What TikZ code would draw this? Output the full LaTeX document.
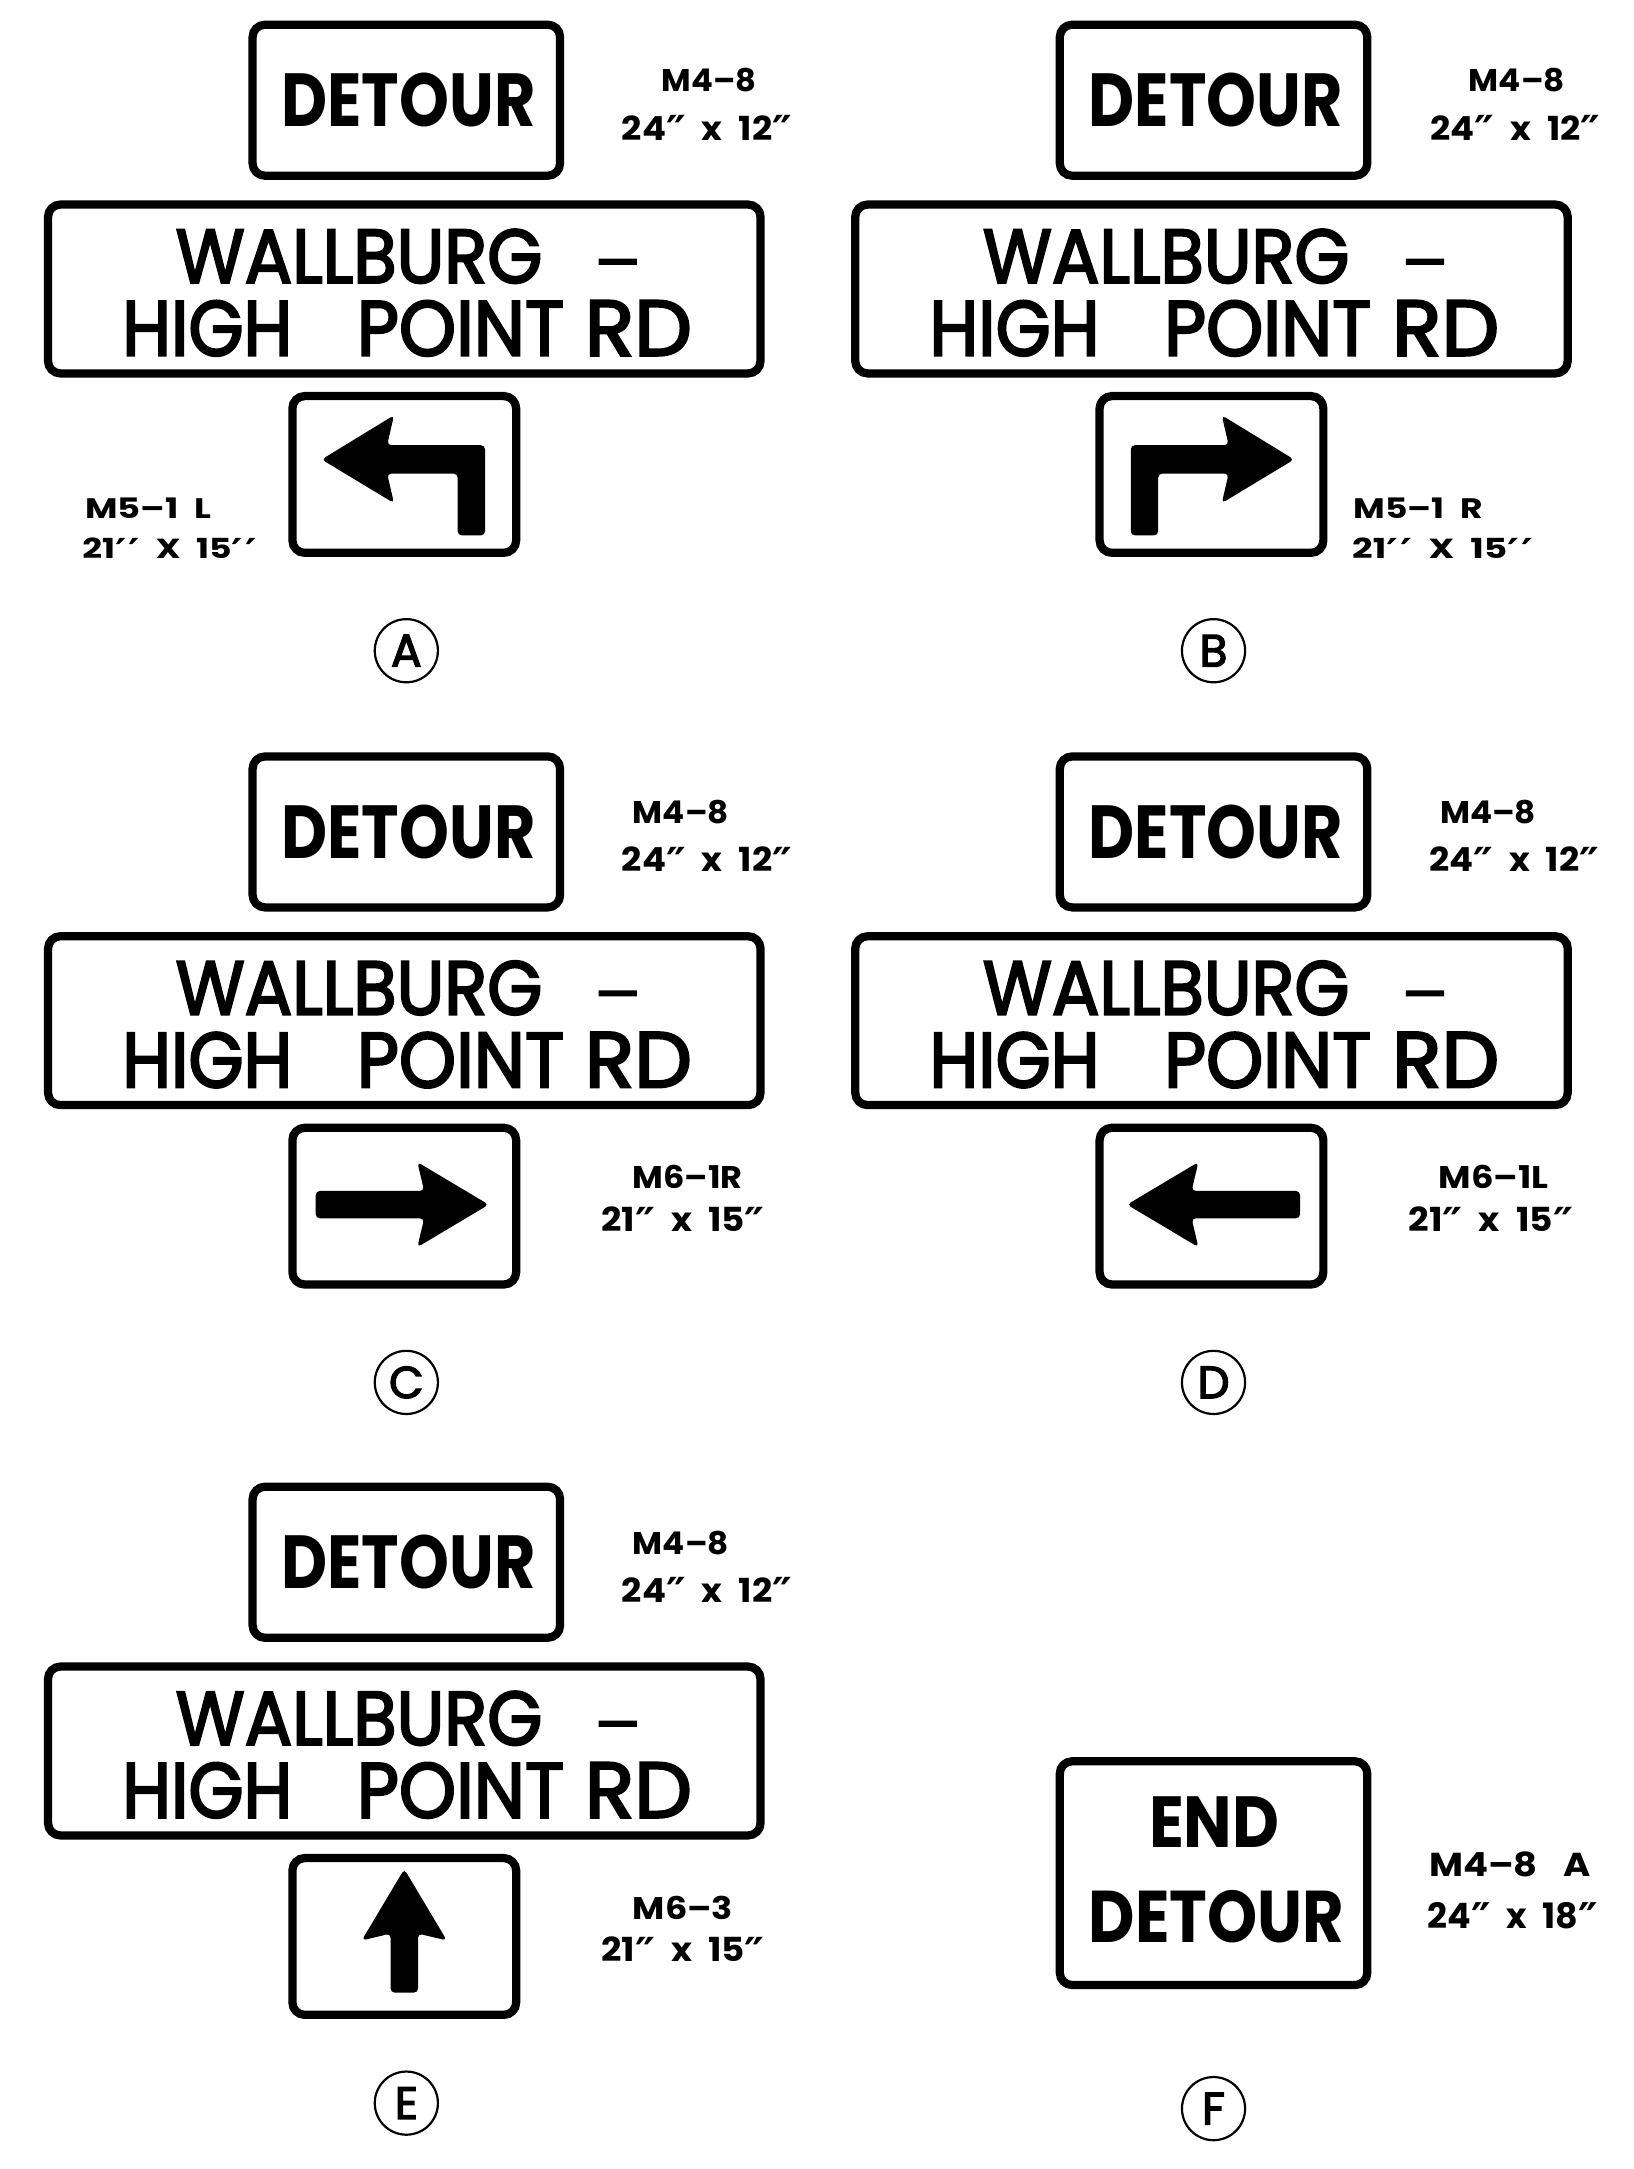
\documentclass[tikz,border=0pt]{standalone}
\usepackage{fontspec}
\usepackage{graphicx}
\setmainfont{Poppins}
\newfontfamily\dv{DejaVu Sans}
\newfontfamily\medfont{Poppins}[FakeBold=3]
\newlength\unitl
\setlength\unitl{0.01372cm}
\newcommand\sgnb{\fontsize{20pt}{24pt}\selectfont\bfseries}
\newcommand\sgnm{\fontsize{20pt}{24pt}\selectfont\medfont}
\newcommand\lab{\fontsize{10pt}{12pt}\selectfont\bfseries}
\newcommand\dq{\smash{\raisebox{-1.7pt}{\dv\bfseries\fontsize{12.5pt}{12pt}\selectfont ″}}}
\newcommand\pp{\smash{\raisebox{-1.7pt}{\dv\bfseries\fontsize{12.5pt}{12pt}\selectfont ′\kern0.05em′}}}
% name x1 x2 ytop ybase font text
\newcommand\fitnode[7]{%
  \pgfmathsetlengthmacro\fw{(#3-#2)*\unitl}%
  \pgfmathsetlengthmacro\fh{(#5-#4)*\unitl}%
  \node[inner sep=0pt, outer sep=0pt, anchor=base] (#1) at ({(#2+#3)/2},#5) {\resizebox{\fw}{\fh}{#6#7}};}
% name x1 y1 x2 y2
\newcommand\signnode[5]{%
  \node[signbox, minimum width={(#4-#2-6)*\unitl}, minimum height={(#5-#3-6)*\unitl}] (#1) at ({(#2+#4)/2},{(#3+#5)/2}) {};}
% prefix dx dy
\newcommand\toppanel[3]{%
  \begin{scope}[shift={(#2,#3)}]
    \signnode{#1det}{181}{15}{411}{131}
    \fitnode{#1dett}{205}{390}{53}{92}{\sgnb}{DETOUR}
    \signnode{#1wal}{32}{146}{557}{275}
    \fitnode{#1wa}{128}{395}{167}{206}{\sgnm}{WALLBURG}
    \fitnode{#1dash}{433}{467}{189}{206}{\sgnm}{–}
    \fitnode{#1hi}{89}{213}{219}{259}{\sgnm}{HIGH}
    \fitnode{#1po}{260}{411}{219}{259}{\sgnm}{POINT}
    \fitnode{#1rd}{426}{504}{219}{259}{\sgnm}{RD}
    \signnode{#1arr}{210}{285.5}{379}{405.7}
  \end{scope}}
\begin{document}
\begin{tikzpicture}[x=0.01372cm, y=-0.01372cm,
  signbox/.style={draw, line width=6*\unitl, rounded corners=9*\unitl, inner sep=0pt},
  circ/.style={draw, circle, line width=1.6*\unitl, minimum size=46*\unitl, inner sep=0pt},
  arrowfill/.style={fill=black, rounded corners=3*\unitl}]
\useasboundingbox (0,0) rectangle (1190,1580);
\fill[white] (0,0) rectangle (1190,1580);

% ---------- A ----------
\toppanel{A}{0}{0}
\begin{scope}[shift={(210,285.5)}]
  \fill[arrowfill] (24.3,49.2) -- (77,17) -- (72,38.8) -- (143.3,38.8) -- (143.3,104.5) -- (123.4,104.5) -- (123.4,59.5) -- (72,59.5) -- (77,81) -- cycle;
\end{scope}
\fitnode{Al1}{482}{551}{50}{67}{\lab}{M4–8}
\fitnode{Al2}{453}{577}{84}{102}{\lab}{24\dq\hspace{.45em}x\hspace{.45em}12\dq}
\fitnode{Al3}{62}{154}{363}{378}{\lab}{M5–1\hspace{.45em}L}
\fitnode{Al4}{60}{187}{392}{407}{\lab}{21\pp\hspace{.45em}X\hspace{.45em}15\pp}
\node[circ] (Ac) at (296,474) {\resizebox{!}{23\unitl}{\medfont A}};

% ---------- B ----------
\toppanel{B}{588}{0}
\begin{scope}[shift={(967,285.5)}, xscale=-1]
  \fill[arrowfill] (24.3,49.2) -- (77,17) -- (72,38.8) -- (143.3,38.8) -- (143.3,104.5) -- (123.4,104.5) -- (123.4,59.5) -- (72,59.5) -- (77,81) -- cycle;
\end{scope}
\fitnode{Bl1}{1070}{1140}{50}{67}{\lab}{M4–8}
\fitnode{Bl2}{1042}{1166}{84}{102}{\lab}{24\dq\hspace{.45em}x\hspace{.45em}12\dq}
\fitnode{Bl3}{986}{1080}{363}{378}{\lab}{M5–1\hspace{.45em}R}
\fitnode{Bl4}{985}{1117}{392}{407}{\lab}{21\pp\hspace{.45em}X\hspace{.45em}15\pp}
\node[circ] (Bc) at (884,474) {\resizebox{!}{23\unitl}{\medfont B}};

% ---------- C ----------
\toppanel{C}{0}{533}
\begin{scope}[shift={(210,818.5)}]
  \fill[arrowfill] (146,59) -- (94,28) -- (99,49) -- (20,49) -- (20,69) -- (99,69) -- (94,90) -- cycle;
\end{scope}
\fitnode{Cl1}{461}{531}{583}{600}{\lab}{M4–8}
\fitnode{Cl2}{453}{577}{617}{635}{\lab}{24\dq\hspace{.45em}x\hspace{.45em}12\dq}
\fitnode{Cl3}{461}{541}{849}{866}{\lab}{M6–1R}
\fitnode{Cl4}{438}{557}{879}{897}{\lab}{21\dq\hspace{.45em}x\hspace{.45em}15\dq}
\node[circ] (Cc) at (296,1007) {\resizebox{!}{23\unitl}{\medfont C}};

% ---------- D ----------
\toppanel{D}{588}{533}
\begin{scope}[shift={(967,818.5)}, xscale=-1]
  \fill[arrowfill] (146,59) -- (94,28) -- (99,49) -- (20,49) -- (20,69) -- (99,69) -- (94,90) -- cycle;
\end{scope}
\fitnode{Dl1}{1049}{1119}{583}{600}{\lab}{M4–8}
\fitnode{Dl2}{1041}{1165}{617}{635}{\lab}{24\dq\hspace{.45em}x\hspace{.45em}12\dq}
\fitnode{Dl3}{1048}{1128}{849}{866}{\lab}{M6–1L}
\fitnode{Dl4}{1026}{1146}{879}{897}{\lab}{21\dq\hspace{.45em}x\hspace{.45em}15\dq}
\node[circ] (Dc) at (884,1007) {\resizebox{!}{23\unitl}{\medfont D}};

% ---------- E ----------
\toppanel{E}{0}{1065}
\begin{scope}[shift={(210,1350.5)}]
  \fill[arrowfill] (84.5,11) -- (115.5,63) -- (94.5,58) -- (94.5,101) -- (74.5,101) -- (74.5,58) -- (53.5,63) -- cycle;
\end{scope}
\fitnode{El1}{461}{531}{1115}{1132}{\lab}{M4–8}
\fitnode{El2}{453}{577}{1149}{1167}{\lab}{24\dq\hspace{.45em}x\hspace{.45em}12\dq}
\fitnode{El3}{461}{534}{1381}{1398}{\lab}{M6–3}
\fitnode{El4}{438}{557}{1411}{1429}{\lab}{21\dq\hspace{.45em}x\hspace{.45em}15\dq}
\node[circ] (Ec) at (296,1532) {\resizebox{!}{23\unitl}{\medfont E}};

% ---------- F ----------
\signnode{Fsign}{769}{1280}{999}{1449}
\fitnode{Fend}{837}{932}{1309}{1346}{\sgnb}{END}
\fitnode{Fdet}{793}{979}{1377}{1415}{\sgnb}{DETOUR}
\fitnode{Fl1}{1041}{1159}{1349}{1367}{\lab}{M4–8\hspace{.7em}A}
\fitnode{Fl2}{1040}{1164}{1386}{1405}{\lab}{24\dq\hspace{.45em}x\hspace{.45em}18\dq}
\node[circ] (Fc) at (884,1536) {\resizebox{!}{23\unitl}{\medfont F}};
\end{tikzpicture}
\end{document}
